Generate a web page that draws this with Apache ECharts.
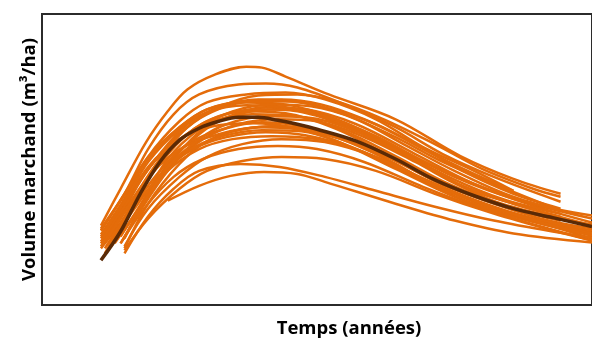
<!DOCTYPE html>
<html>
<head>
<meta charset="utf-8">
<title>Volume marchand</title>
<script src="https://cdn.jsdelivr.net/npm/echarts@6/dist/echarts.min.js"></script>
<style>
    html, body { margin: 0; padding: 0; background: #fff; }
    #chart { width: 592px; height: 343px; }
</style>
</head>
<body>
<div id="chart"></div>
<script>
// courbe moyenne [âge, volume]
var meanCurve = [[15, 45], [20, 74], [25, 112], [30, 144], [35, 166], [40, 178], [45, 185], [50, 189], [55, 189],
    [60, 186], [65, 182], [70, 177], [80, 165], [90, 147], [100, 126], [110, 110], [120, 97], [130, 88], [140, 79]];

// courbes individuelles [âge, volume]
var c1 = [[15, 80], [20, 117], [26.5, 164], [32, 195], [37, 217], [44, 232], [52, 240], [56, 239], [62, 230], [73, 212], [90, 187], [106.5, 150], [120, 127], [132, 112]];
var c2 = [[15, 75], [21, 112], [27, 157], [33.5, 192], [40, 212], [50, 222], [57, 223], [65, 219], [77, 202], [90, 179], [102, 152], [115, 129], [132, 104]];
var c3 = [[15, 71], [21, 107], [27, 149], [35, 185], [42, 204], [52, 212], [62, 214], [72, 207], [85, 187], [97, 159], [110, 135], [120, 115]];
var c4 = [[16, 67], [22, 107], [30, 152], [37, 182], [45, 199], [55, 207], [65, 205], [77, 192], [90, 169], [102, 144], [115, 122], [132, 95]];
var c5 = [[15, 62], [21, 97], [27, 137], [35, 172], [42, 192], [52, 204], [62, 202], [75, 187], [90, 159], [105, 129], [120, 107], [140, 87]];
var c6 = [[20, 62], [26, 102], [32, 142], [40, 172], [47, 189], [57, 199], [67, 197], [80, 182], [95, 152], [110, 122], [125, 100], [140, 83]];
var c7 = [[15, 57], [21, 89], [27, 129], [35, 165], [42, 185], [52, 195], [62, 193], [75, 177], [90, 147], [105, 117], [120, 97], [140, 80]];
var c8 = [[21, 67], [27, 112], [33.5, 147], [41, 177], [50, 192], [60, 197], [70, 192], [82, 174], [95, 147], [107, 119], [120, 97], [132, 85]];
var c9 = [[16, 52], [22, 92], [30, 135], [37, 162], [46, 177], [56, 184], [66, 180], [77, 167], [90, 142], [102, 115], [115, 95], [132, 77]];
var c10 = [[21, 57], [27, 102], [35, 142], [42, 165], [51, 177], [61, 180], [72, 173], [85, 152], [97, 127], [112, 102], [127, 85], [140, 73]];
var c11 = [[15, 67], [21, 102], [27, 139], [35, 167], [43.5, 180], [53.5, 183], [63.5, 179], [75, 165], [90, 137], [105, 109], [120, 89], [140, 70]];
var c12 = [[17, 59], [23.5, 97], [31, 135], [38.5, 157], [47, 169], [57, 174], [67, 171], [80, 157], [95, 129], [110, 104], [125, 85], [140, 67]];
var c13 = [[21, 59], [27, 97], [35, 129], [42, 149], [51, 162], [61, 167], [72, 164], [85, 149], [100, 122], [115, 99], [130, 81], [140, 72]];
var c14 = [[20, 62], [26, 97], [33.5, 129], [41, 147], [50, 157], [60, 160], [70, 157], [82, 144], [97, 119], [112, 97], [127, 79], [140, 65]];
var c15 = [[21, 55], [27, 87], [35, 117], [42, 135], [51, 145], [61, 149], [72, 147], [85, 135], [100, 112], [115, 92], [130, 75], [140, 65]];
var c16 = [[32, 105], [40, 120], [48, 130], [56.5, 134], [65, 132], [72, 124], [90, 102], [105, 85], [120, 72], [140, 63]];
var c17 = [[21, 52], [27, 89], [33.5, 117], [40, 135], [50.5, 142], [60.5, 139], [72, 129], [85, 115], [100, 99], [115, 85], [130, 74], [140, 68]];
var c18 = [[44, 170], [51, 177], [58.5, 180], [67, 177], [77, 167], [90, 147], [102, 122], [115, 102], [127, 87], [140, 77]];
var c19 = [[15, 75], [21, 112], [27, 149], [35, 179], [42, 197], [51, 205], [61, 207], [71, 202], [82, 187], [95, 162], [107, 135], [120, 112], [132, 97]];
var c20 = [[15, 69], [21, 104], [27, 144], [35, 177], [42, 194], [52, 201], [62, 199], [72, 190], [85, 170], [97, 145], [110, 122], [125, 102], [140, 90]];
var c21 = [[16, 62], [22, 99], [30, 142], [37, 172], [45, 190], [55, 197], [65, 195], [76, 182], [90, 157], [103.5, 129], [117, 107], [132, 92]];
var c22 = [[20, 69], [26, 107], [32, 147], [40, 177], [48.5, 195], [58.5, 202], [68.5, 200], [80, 187], [92, 162], [105, 135], [118.5, 111], [132, 95]];
var c23 = [[15, 64], [21, 99], [27, 137], [35, 167], [43.5, 185], [53.5, 192], [65, 190], [77, 175], [90, 150], [103.5, 122], [117, 102], [132, 87], [140, 81]];
var c24 = [[20.5, 65], [27, 107], [33.5, 142], [41, 167], [50, 182], [60, 187], [70, 185], [82, 169], [95, 144], [107, 119], [120, 102], [140, 80]];
var c25 = [[16, 57], [22, 92], [30, 129], [37, 155], [46, 170], [56, 176], [66, 175], [77, 162], [90, 139], [105, 112], [120, 92], [140, 75]];
var c26 = [[18.5, 62], [25, 99], [32, 135], [40, 157], [48.5, 167], [58.5, 170], [70, 167], [82, 154], [97, 127], [112, 102], [127, 83], [140, 70]];
var c27 = [[15, 59], [21, 95], [28.5, 135], [36, 159], [45, 172], [55, 179], [65, 177], [76, 167], [90, 145], [102, 121], [117, 101], [132, 85]];
var c28 = [[17, 69], [23.5, 109], [30, 147], [37, 179], [45, 199], [55, 211], [65, 212], [75, 205], [87, 187], [100, 162], [112, 137], [125, 117], [132, 109]];
var c29 = [[15, 77], [21, 111], [27, 147], [35, 179], [42, 197], [52, 205], [62, 205], [72, 199], [85, 182], [97, 157], [110, 132], [120, 115]];
var c30 = [[20, 70], [26, 104], [32, 139], [40, 167], [47, 182], [57, 190], [67, 189], [78.5, 177], [92, 152], [106, 122], [120, 102], [132, 89]];

var curves = [c1, c2, c3, c4, c5, c6, c7, c8, c9, c10, c11, c12, c13, c14, c15,
    c16, c17, c18, c19, c20, c21, c22, c23, c24, c25, c26, c27, c28, c29, c30];

(function() {
    var chart = echarts.init(document.getElementById("chart"), null, { renderer: "canvas" }),
        series = [],
        i;

    for (i = 0; i < curves.length; i++) {
        series.push({
            type: "line",
            data: curves[i],
            smooth: 0.35,
            showSymbol: false,
            silent: true,
            lineStyle: { color: "#E46C0A", width: 2.5 }
        });
    }
    series.push({
        type: "line",
        data: meanCurve,
        smooth: 0.35,
        showSymbol: false,
        silent: true,
        z: 5,
        lineStyle: { color: "#5A2A06", width: 3.5 }
    });

    var option = {
        animation: false,
        grid: {
            left: 42,
            top: 14,
            right: -8,
            bottom: 36,
            show: true,
            borderColor: "#2b2b2b",
            borderWidth: 2
        },
        xAxis: {
            type: "value",
            min: 0,
            max: 140,
            name: "Temps (années)",
            nameLocation: "middle",
            nameGap: 14,
            nameTextStyle: {
                fontFamily: "Open Sans",
                fontWeight: "bold",
                fontSize: 18.5,
                color: "#000",
                padding: [0, 0, 0, 64]
            },
            axisLine: { show: false },
            axisTick: { show: false },
            axisLabel: { show: false },
            splitLine: { show: false }
        },
        yAxis: {
            type: "value",
            min: 0,
            max: 293,
            name: "Volume marchand (m³/ha)",
            nameLocation: "middle",
            nameGap: 3,
            nameTextStyle: {
                fontFamily: "Open Sans",
                fontWeight: "bold",
                fontSize: 18.5,
                color: "#000"
            },
            axisLine: { show: false },
            axisTick: { show: false },
            axisLabel: { show: false },
            splitLine: { show: false }
        },
        series: series
    };

    chart.setOption(option);
}());
</script>
</body>
</html>
